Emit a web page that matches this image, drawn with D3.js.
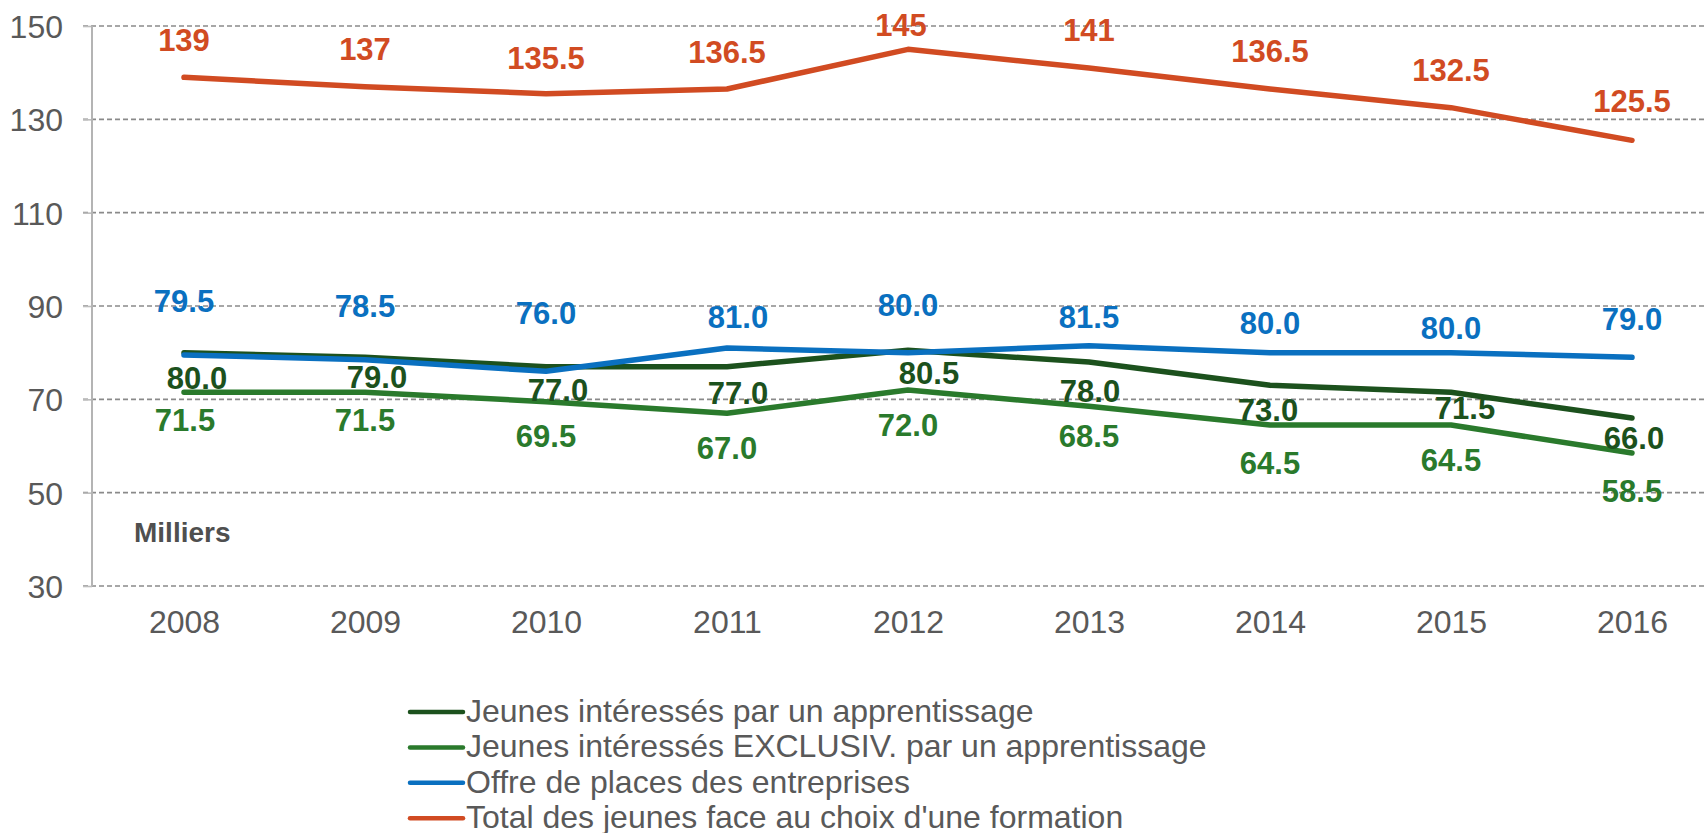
<!DOCTYPE html>
<html lang="fr">
<head>
    <meta charset="UTF-8">
    <title>Apprentissage</title>
    <script src="https://d3js.org/d3.v7.min.js"></script>
    <style>
        body { margin: 0; background: #fff; }
        text { font-family: "Liberation Sans", Arial, sans-serif; }
    </style>
</head>
<body>
<div class="canvas"></div>
<script>

  // donnees (milliers)
  const years = ['2008', '2009', '2010', '2011', '2012', '2013', '2014', '2015', '2016']
  const interesses = [80.0, 79.0, 77.0, 77.0, 80.5, 78.0, 73.0, 71.5, 66.0]
  const exclusifs = [71.5, 71.5, 69.5, 67.0, 72.0, 68.5, 64.5, 64.5, 58.5]
  const offre = [79.5, 78.5, 76.0, 81.0, 80.0, 81.5, 80.0, 80.0, 79.0]
  const total = [139, 137, 135.5, 136.5, 145, 141, 136.5, 132.5, 125.5]
  const yTicks = [30, 50, 70, 90, 110, 130, 150]

  const width = 1704
  const height = 833
  const [mt, ml] = [26, 92]
  const graphHeight = 560

  const svg = d3.select('.canvas')
    .append('svg')
    .attr('width', width)
    .attr('height', height)

  const x = d3.scalePoint()
    .domain(years)
    .range([184, 184 + 8 * 181])

  const y = d3.scaleLinear()
    .domain([30, 150])
    .range([mt + graphHeight, mt])

  // grille pointillee
  svg.append('g')
    .selectAll('line')
    .data(yTicks)
    .join('line')
    .attr('x1', ml - 9)
    .attr('x2', width)
    .attr('y1', d => y(d))
    .attr('y2', d => y(d))
    .attr('stroke', '#8a8a8a')
    .attr('stroke-width', 1.6)
    .attr('stroke-dasharray', '5,3')

  const yAxis = d3.axisLeft(y)
    .tickValues(yTicks)
    .tickSize(9)
    .tickPadding(20)

  const yAxisG = svg.append('g')
    .attr('transform', `translate(${ml}, 0)`)
    .call(yAxis)
  yAxisG.select('.domain').remove()
  yAxisG.selectAll('line').attr('stroke', '#bdbdbd').attr('stroke-width', 1.6)
  yAxisG.selectAll('text')
    .attr('fill', '#595959')
    .style('font-size', '32px')
    .attr('dy', '0.36em')

  svg.append('line')
    .attr('x1', ml).attr('x2', ml)
    .attr('y1', y(150)).attr('y2', y(30))
    .attr('stroke', '#b4b4b4')
    .attr('stroke-width', 2)

  const xAxis = d3.axisBottom(x).tickSize(0).tickPadding(0)
  const xAxisG = svg.append('g')
    .attr('transform', `translate(0, 633)`)
    .call(xAxis)
  xAxisG.select('.domain').remove()
  xAxisG.selectAll('text')
    .attr('fill', '#595959')
    .attr('dy', 0)
    .style('font-size', '32px')

  svg.append('text')
    .attr('x', 134)
    .attr('y', 542)
    .attr('fill', '#4f4f4f')
    .style('font-size', '28px')
    .style('font-weight', 'bold')
    .text('Milliers')

  // series, decalages des etiquettes (px) : dy > 0 = au-dessus
  const series = [
    { name: 'Jeunes intéressés par un apprentissage', values: interesses, color: '#1c511d',
      dy: [-36, -31, -34, -37, -34, -40, -36, -27, -31], dx: [13, 12, 12, 11, 21, 1, -2, 14, 2] },
    { name: 'Jeunes intéressés EXCLUSIV. par un apprentissage', values: exclusifs, color: '#2a7a2c',
      dy: [-39, -39, -45, -46, -46, -41, -49, -46, -49], dx: [1, 0, 0, 0, 0, 0, 0, 0, 0] },
    { name: 'Offre de places des entreprises', values: offre, color: '#0a70c0',
      dy: [43, 43, 47, 20, 37, 18, 19, 14, 27], dx: [0, 0, 0, 11, 0, 0, 0, 0, 0] },
    { name: "Total des jeunes face au choix d'une formation", values: total, color: '#d14b22',
      dy: [26, 27, 25, 26, 13, 27, 27, 27, 28], dx: [0, 0, 0, 0, -7, 0, 0, 0, 0] }
  ]

  const line = d3.line()
    .x((d, i) => x(years[i]))
    .y(d => y(d))

  const fmt = (s, v) => s.values === total ? d3.format('')(v) : d3.format('.1f')(v)

  // ordre de dessin : vert clair, vert fonce, bleu, rouge
  const drawOrder = [series[1], series[0], series[2], series[3]]

  svg.append('g')
    .selectAll('path')
    .data(drawOrder)
    .join('path')
    .attr('fill', 'none')
    .attr('stroke', d => d.color)
    .attr('stroke-width', 5.5)
    .attr('stroke-linejoin', 'round')
    .attr('stroke-linecap', 'round')
    .attr('d', d => line(d.values))

  drawOrder.forEach(s => {
    svg.append('g')
      .selectAll('text')
      .data(s.values)
      .join('text')
      .attr('x', (d, i) => x(years[i]) + s.dx[i])
      .attr('y', (d, i) => y(d) - s.dy[i])
      .attr('text-anchor', 'middle')
      .attr('fill', s.color)
      .style('font-size', '31px')
      .style('font-weight', 'bold')
      .text(d => fmt(s, d))
  })

  // legende
  const legend = svg.append('g')
    .attr('transform', 'translate(408, 722)')

  const items = legend.selectAll('g')
    .data(series)
    .join('g')
    .attr('transform', (d, i) => `translate(0, ${i * 35.4})`)

  items.append('line')
    .attr('x1', 2).attr('x2', 55)
    .attr('y1', -10).attr('y2', -10)
    .attr('stroke', d => d.color)
    .attr('stroke-width', 4.5)
    .attr('stroke-linecap', 'round')

  items.append('text')
    .attr('x', 58)
    .attr('y', 0)
    .attr('fill', '#595959')
    .style('font-size', '32px')
    .text(d => d.name)

</script>
</body>
</html>
